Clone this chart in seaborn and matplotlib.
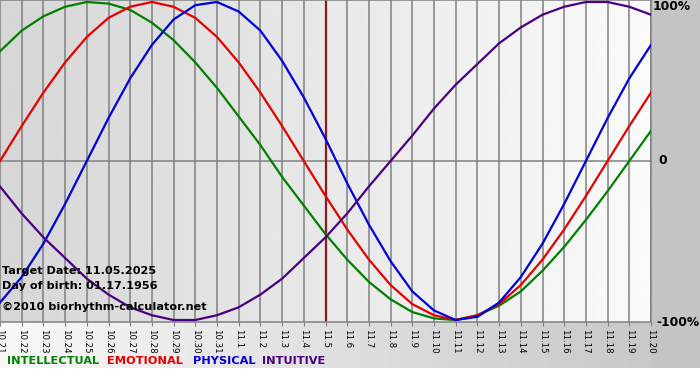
import matplotlib
matplotlib.use("Agg")
import matplotlib.pyplot as plt
import numpy as np
import pandas as pd
import seaborn as sns

FIGNAME = "out.png"

# day labels (month.day)
days = ["10.21", "10.22", "10.23", "10.24", "10.25", "10.26", "10.27", "10.28", "10.29", "10.30",
        "10.31", "11.1", "11.2", "11.3", "11.4", "11.5", "11.6", "11.7", "11.8", "11.9",
        "11.10", "11.11", "11.12", "11.13", "11.14", "11.15", "11.16", "11.17", "11.18", "11.19",
        "11.20"]

# daily cycle values (-1 .. 1)
intellectual = [0.69, 0.82, 0.91, 0.97, 1.00, 0.99, 0.95, 0.87, 0.76, 0.62,
                0.46, 0.28, 0.10, -0.10, -0.28, -0.46, -0.62, -0.76, -0.87, -0.95,
                -0.99, -1.00, -0.97, -0.91, -0.82, -0.69, -0.54, -0.37, -0.19, 0.00,
                0.19]
emotional = [0.00, 0.22, 0.43, 0.62, 0.78, 0.90, 0.97, 1.00, 0.97, 0.90,
             0.78, 0.62, 0.43, 0.22, 0.00, -0.22, -0.43, -0.62, -0.78, -0.90,
             -0.97, -1.00, -0.97, -0.90, -0.78, -0.62, -0.43, -0.22, 0.00, 0.22,
             0.43]
physical = [-0.89, -0.73, -0.52, -0.27, 0.00, 0.27, 0.52, 0.73, 0.89, 0.98,
            1.00, 0.94, 0.82, 0.63, 0.40, 0.14, -0.14, -0.40, -0.63, -0.82,
            -0.94, -1.00, -0.98, -0.89, -0.73, -0.52, -0.27, 0.00, 0.27, 0.52,
            0.73]
intuitive = [-0.16, -0.33, -0.48, -0.61, -0.74, -0.84, -0.92, -0.97, -1.00, -1.00,
             -0.97, -0.92, -0.84, -0.74, -0.61, -0.48, -0.33, -0.16, 0.00, 0.16,
             0.33, 0.48, 0.61, 0.74, 0.84, 0.92, 0.97, 1.00, 1.00, 0.97,
             0.92]

series_names = ["INTELLECTUAL", "EMOTIONAL", "PHYSICAL", "INTUITIVE"]
colors = ["#008000", "#e60000", "#0000dc", "#4b0082"]
target_idx = days.index("11.5")

rows = []
for name, vals in zip(series_names, [intellectual, emotional, physical, intuitive]):
    for i, v in enumerate(vals):
        rows.append({"day": i, "value": v, "series": name})
df = pd.DataFrame(rows)

W, H = 700, 380
fig = plt.figure(figsize=(W / 100, H / 100), dpi=100)

# outer background: light on the left, grey on the right, white strip at bottom
bg = fig.add_axes([0, 0, 1, 1], zorder=-5)
grad = np.linspace(248, 196, 256)
bg.imshow(np.tile(grad, (2, 1)), cmap="gray", vmin=0, vmax=255, aspect="auto",
          extent=[0, W, H - 368, H])
bg.add_patch(plt.Rectangle((652, H - 368), W - 652, 368, color="#c4c4c4", lw=0))
bg.set_xlim(0, W)
bg.set_ylim(0, H)
bg.axis("off")

# plot area
x1 = 651
ax = fig.add_axes([0, (H - 322) / H, x1 / W, 322 / H])
ylo, yhi = -1.0125, 1.0125
inner = np.linspace(214, 250, 256)
ax.imshow(np.tile(inner, (2, 1)), cmap="gray", vmin=0, vmax=255, aspect="auto",
          extent=[0, len(days) - 1, ylo, yhi], zorder=0)

for i in range(len(days)):
    ax.axvline(i, color="#808080", lw=1.1, zorder=1)
ax.axhline(0, color="#808080", lw=1.1, zorder=1)
ax.axvline(target_idx, color="#8b1a1a", lw=1.6, zorder=2)

sns.lineplot(data=df, x="day", y="value", hue="series", hue_order=series_names,
             palette=colors, linewidth=1.6, legend=False, ax=ax, zorder=3)

ax.set_xlim(0, len(days) - 1)
ax.set_ylim(ylo, yhi)
ax.set_xlabel("")
ax.set_ylabel("")
ax.set_yticks([])
ax.set_xticks(range(len(days)))
ax.set_xticklabels(days, rotation=270, fontsize=6.2, va="top", ha="center", color="black")
ax.tick_params(axis="x", length=3, color="#808080", pad=2)
for s in ax.spines.values():
    s.set_color("#808080")
    s.set_linewidth(1.1)
ax.spines["left"].set_visible(False)

# percent labels at the right
ax.text(1.003, 0.98, "100%", transform=ax.transAxes, fontsize=8.8, fontweight="bold",
        va="center", ha="left")
ax.text(1.012, 0.5, "0", transform=ax.transAxes, fontsize=8.8, fontweight="bold",
        va="center", ha="left")
ax.text(1.008, 0.0, "-100%", transform=ax.transAxes, fontsize=8.8, fontweight="bold",
        va="center", ha="left")

# info text
info = ["Target Date: 11.05.2025", "Day of birth: 01.17.1956", "\u00a92010 biorhythm-calculator.net"]
for txt, ypix in zip(info, [271, 286, 307]):
    fig.text(2 / W, 1 - ypix / H, txt, fontsize=8.1, fontweight="bold", va="center", ha="left")

# legend row
for name, c, xpix in zip(series_names, colors, [7, 107, 193, 262]):
    fig.text(xpix / W, 1 - 361 / H, name, color=c, fontsize=8.2, fontweight="bold",
             va="center", ha="left")

plt.savefig(FIGNAME, dpi=100)
